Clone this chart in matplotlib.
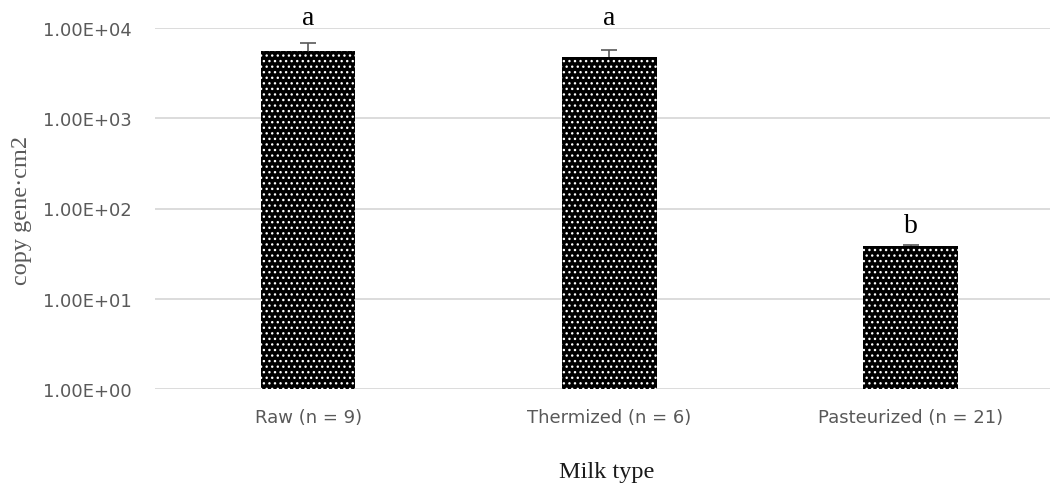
import numpy as np
import matplotlib
matplotlib.use('Agg')
import matplotlib.pyplot as plt
from matplotlib.ticker import FixedLocator, FuncFormatter, NullLocator

# data
milk_types = ['Raw (n = 9)', 'Thermized (n = 6)', 'Pasteurized (n = 21)']
copies = [5500, 4750, 38.8]
copies_err = [1280, 960, 1.0]
letters = ['a', 'a', 'b']
letter_y = [1.1e4, 1.1e4, 55]
y_ticks = [1, 10, 100, 1000, 10000]

grey = '#595959'
plt.rcParams['hatch.linewidth'] = 0.95
plt.rcParams['hatch.color'] = 'white'

fig = plt.figure(figsize=(10.5, 4.89), dpi=100)
ax = fig.add_axes([155 / 1050, 99 / 489, 904 / 1050, 361 / 489])

x = np.arange(len(milk_types))
ax.errorbar(x, copies, yerr=copies_err, fmt='none', ecolor=grey,
            elinewidth=1.2, capsize=6, capthick=1.2, zorder=2)
ax.bar(x, copies, width=0.314, color='black', edgecolor='white',
       linewidth=0, hatch='...', zorder=3)

for xi, lab, yy in zip(x, letters, letter_y):
    ax.text(xi, yy, lab, ha='center', va='baseline', fontsize=20,
            family='Liberation Serif', color='black', clip_on=False)

ax.set_yscale('log')
ax.set_ylim(1, 1e4)
ax.set_xlim(-0.508, 2.492)
ax.yaxis.set_major_locator(FixedLocator(y_ticks))
ax.yaxis.set_minor_locator(NullLocator())
ax.yaxis.set_major_formatter(FuncFormatter(lambda v, p: f'{v:.2E}'))
ax.set_xticks(x)
ax.set_xticklabels(milk_types)

ax.grid(axis='y', color='#d9d9d9', linewidth=1.3, zorder=0)
ax.set_axisbelow(True)
for s in ax.spines.values():
    s.set_visible(False)
ax.tick_params(axis='y', length=0, pad=17, labelsize=12.9, labelcolor=grey)
ax.tick_params(axis='x', length=0, pad=14, labelsize=13, labelcolor=grey)

fig.text(22 / 1050, 1 - 210 / 489, 'copy gene\u00b7cm2', rotation=90,
         ha='center', va='center', fontsize=17.5, family='Liberation Serif',
         color=grey)
fig.text(607 / 1050, 1 - 478 / 489, 'Milk type', ha='center', va='baseline',
         fontsize=17.5, family='Liberation Serif', color='#1a1a1a')

fig.savefig('out.png', dpi=100)
